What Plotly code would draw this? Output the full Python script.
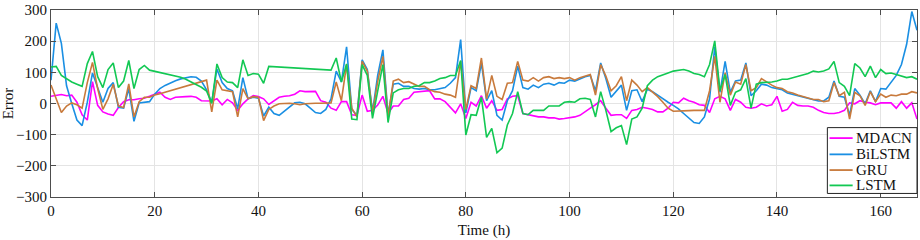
import plotly.graph_objects as go

hours = list(range(168))

mdacn = [23, 25, 29, 25, 27, 4, -36, -53, 70, -6, -27, -34, -38, -13, 6, 12, 12, 15, 17, 23, 30,
         36, 20, 13, 20, 20, 22, 23, 20, 9, 8, 8, 15, -4, 13, 2, -22, -1, 15, 25, 22, 15,
         -3, 9, 20, 23, 25, 30, 41, 38, 39, 39, 9, 4, -15, -22, 6, 6, -36, -38, 27, -25, -22,
         -5, 23, -32, -8, -8, 13, 17, 36, 38, 38, 41, 15, 15, 6, -12, -30, -1,
         -48, 4, -8, 25, -15, 9, -22, -19, 15, 23, 25, -32, -36, -38, -43, -43, -46, -46, -50, -48, -46, -43, -38, -25, -15,
         -4, 9, -15, -38, -36, -36, -48, -22, -19, -12, -15, -19, -27, -27, -15, 4, 2, 17, 9, 4,
         -4, -6, -29, 15, 23, 15, -22, 13, 4, -12, -15, -12, -1, -8, -4, 23, -25, -19, 4, -6, -8, -8, -12, -22, -29, -32, -32, -29, -22, 2, -1, 9, 4, 2, -4, 2, 2, 2, -15, 6, -15, 2, -50]

bilstm = [75, 258, 193, 57, 0, -53, -71, 4, 98, 48, 4, 48, 67, -12, -15, 48, -57, 2, 4, 6, 30,
          48, 58, 66, 73, 79, 83, 86, 84, 72, 44, 4, 111, 67, 48, 41, -17, 83, 15, 20, 17, -40,
          -12, -32, -38, -25, -12, 2, 4, -1, -15, -29, -32, -19, 15, 104, 69, 182, -19, -38, 140, 109, -27,
          90, 172, -36, 62, 65, 55, 55, 48, 46, 48, 44, 44, 48, 51, 65, 83, 205,
          -30, 51, 41, 130, 9, 41, -38, -53, 9, 41, 120, 51, 46, 59, 51, 62, 65, 59, 67, 65, 75, 72, 80, 86, 90,
          41, 130, 80, 20, 41, 59, -22, 41, 44, 6, 46, 38, 27, 15, 4, -6, -17, -32, -46, -61,
          -64, -43, 15, 182, 36, 135, 36, 72, 75, 130, 25, 41, 62, 59, 51, 48, 44, 34, 30, 25, 21, 17, 13, 8, 8, 20, 72, 23, 20, -38, 48, 27, -1, 41, 6, 48, 46, 70, 90, 125, 190, 295, 235]

gru = [59, 15, -29, -8, 2, -4, -15, 67, 132, 48, -19, 15, 62, -8, -13, 63, -43, 6, 20, 20, 27,
       31, 36, 40, 45, 50, 55, 60, 65, 70, 75, -27, 75, 44, 41, 38, -43, 48, 15, 22, 20, -55,
       -19, -8, -1, 1, 1, -1, -4, -1, 1, 1, 1, 1, 2, 69, 9, 125, -15, -43, 135, 104, -32,
       70, 151, -43, 72, 78, 67, 70, 62, 55, 55, 44, 38, 36, 30, 27, 20, 135,
       -19, 57, 48, 146, 15, 90, 23, 13, 65, 67, 135, 75, 72, 83, 72, 83, 86, 80, 83, 80, 83, 75, 83, 88, 93,
       27, 125, 88, 41, 57, 86, 9, 75, 59, 38, 51, 38, 22, 4, -15, -25, -25, -24, -23, -22,
       -22, -22, 41, 151, 4, 99, 27, 69, 62, 125, 41, 51, 80, 69, 59, 51, 48, 38, 34, 27, 23, 19, 13, 13, 6, 9, 67, 25, 36, -50, 36, 25, -6, 38, 6, 30, 20, 27, 25, 30, 30, 38, 34]

lstm = [117, 119, 90, 78, 69, 62, 55, 128, 167, 86, 51, 109, 130, 51, 72, 138, 48, 109, 122, 107, 103,
        100, 97, 93, 89, 84, 78, 70, 62, 52, 40, 0, 127, 83, 69, 67, 51, 140, 90, 96, 94, 65,
        119, 118, 117, 116, 115, 114, 113, 112, 111, 110, 109, 108, 107, 146, 69, 127, -50, -52, 125, 90, -48,
        40, 125, -61, 34, 44, 48, 48, 55, 57, 67, 67, 72, 80, 83, 90, 90, 138,
        -101, -36, -38, 20, -109, -80, -158, -143, -69, -32, 38, -32, -36, -22, -22, -22, -8, -8, -8, 4, 6, 4, 15, 17, 13,
        -43, 38, -22, -90, -78, -71, -132, -50, -43, -15, 57, 75, 86, 93, 98, 104, 107, 109, 104, 96,
        93, 86, 125, 201, 41, 93, -6, 36, 44, 80, -15, 62, 67, 67, 69, 72, 78, 78, 83, 88, 92, 96, 104, 101, 104, 111, 135, 67, 55, 25, 128, 114, 86, 120, 83, 109, 96, 98, 93, 88, 83, 86, 78]

series_names = ["MDACN", "BiLSTM", "GRU", "LSTM"]
series_values = [mdacn, bilstm, gru, lstm]
series_colors = ["#FF00FF", "#1A8FE3", "#C87A3C", "#12C853"]

x_ticks = list(range(0, 161, 20))
y_ticks = list(range(-300, 301, 100))

FONT = "Liberation Serif, Times New Roman, serif"
AXC = "#4d4d4d"

fig = go.Figure()
for name, vals, col in zip(series_names, series_values, series_colors):
    fig.add_trace(go.Scatter(x=hours[:len(vals)], y=vals, mode="lines", name=name,
                             line=dict(color=col, width=1.6), showlegend=False))

# legend box (paper coordinates, lower-right corner inside the axes)
lg_x0, lg_x1, lg_y0, lg_y1 = 0.8965, 1.0, 0.019, 0.371
fig.add_shape(type="rect", xref="paper", yref="paper", x0=lg_x0, x1=lg_x1, y0=lg_y0, y1=lg_y1,
              line=dict(color="#222222", width=1), fillcolor="white", layer="above")
row_y = [0.315, 0.228, 0.144, 0.062]
for name, col, ry in zip(series_names, series_colors, row_y):
    fig.add_shape(type="line", xref="paper", yref="paper", x0=0.899, x1=0.9257, y0=ry, y1=ry,
                  line=dict(color=col, width=1.8), layer="above")
    fig.add_annotation(xref="paper", yref="paper", x=0.9275, y=ry, text=name, showarrow=False,
                       xanchor="left", yanchor="middle",
                       font=dict(family=FONT, size=15, color="#111111"))

axis_common = dict(showline=True, linecolor=AXC, linewidth=1, mirror="ticks",
                   ticks="inside", ticklen=5, tickcolor=AXC,
                   showgrid=True, gridcolor="#E4E4E4", gridwidth=1, zeroline=False,
                   ticklabeloverflow="allow",
                   tickfont=dict(family=FONT, size=15, color="#111111"))

fig.update_layout(
    width=920, height=240,
    margin=dict(l=51, r=2, t=6, b=43),
    paper_bgcolor="white", plot_bgcolor="white",
    font=dict(family=FONT, size=15, color="#111111"),
    showlegend=False,
    xaxis=dict(range=[0, 167], tickvals=x_ticks,
               title=dict(text="Time (h)", standoff=6, font=dict(family=FONT, size=15)),
               **axis_common),
    yaxis=dict(range=[-300, 300], tickvals=y_ticks,
               title=dict(text="Error", standoff=4, font=dict(family=FONT, size=15)),
               **axis_common),
)

fig.write_html("out.html", config={"displayModeBar": False},
               post_script="document.body.style.margin='0';document.body.style.padding='0';")
